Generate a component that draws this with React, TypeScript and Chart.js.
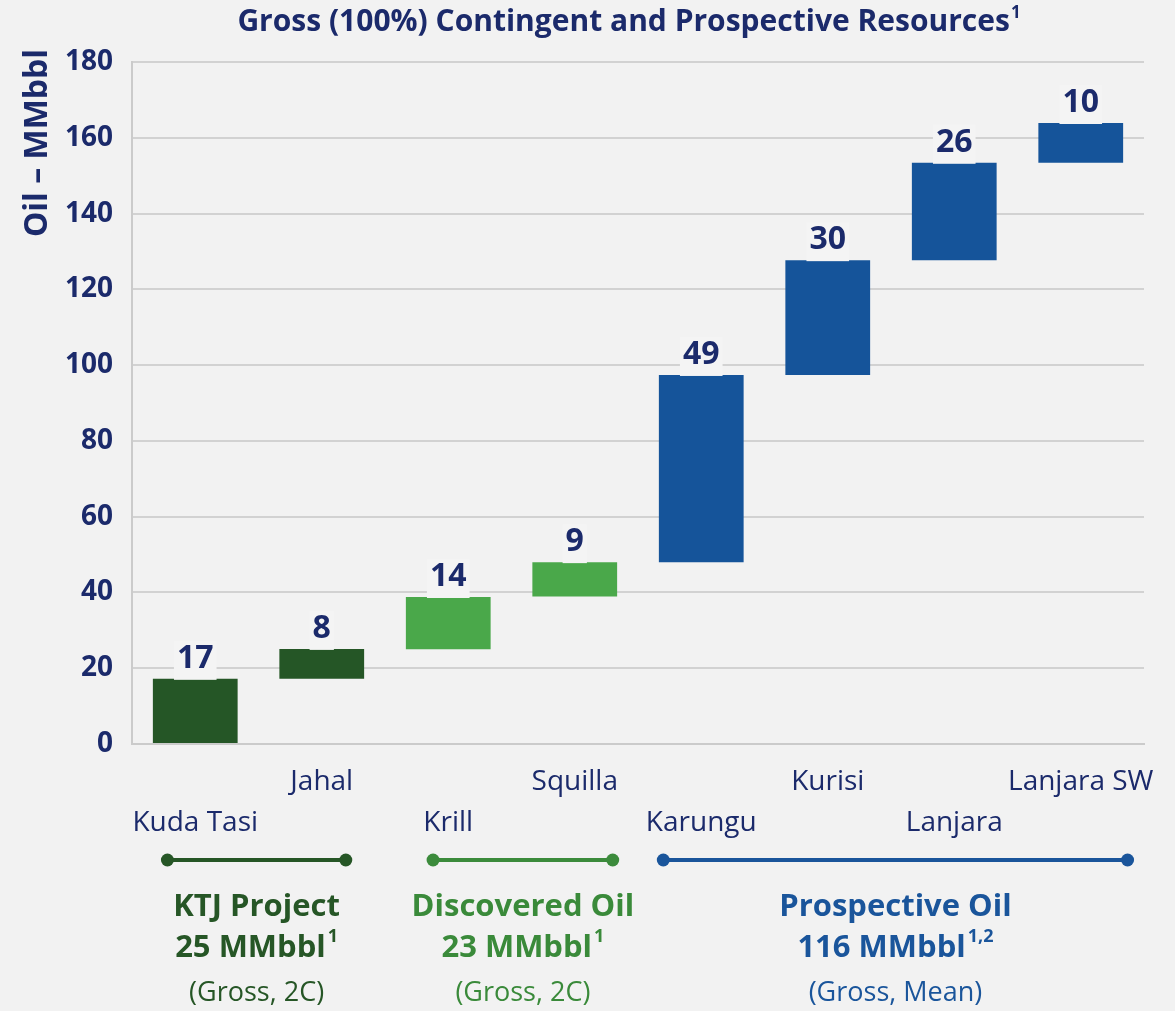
import React, { useEffect, useRef } from 'react';
import { Chart, registerables } from 'chart.js';

Chart.register(...registerables);

// ---------- data ----------
const categories = ['Kuda Tasi', 'Jahal', 'Krill', 'Squilla', 'Karungu', 'Kurisi', 'Lanjara', 'Lanjara SW'];
const barStart = [0, 17.2, 25.0, 38.9, 48.0, 97.4, 127.7, 153.4];
const barEnd = [17.2, 25.1, 38.8, 48.0, 97.4, 127.7, 153.4, 163.9];
const barLabels = ['17', '8', '14', '9', '49', '30', '26', '10'];
const barColors = ['#255626', '#255626', '#4AA84A', '#4AA84A', '#15549A', '#15549A', '#15549A', '#15549A'];
const yMin = 0;
const yMax = 180;
const yStep = 20;

const titleText = 'Gross (100%) Contingent and Prospective Resources';
const titleSup = '1';
const yTitle = 'Oil – MMbbl';

const groupTitles = ['KTJ Project', 'Discovered Oil', 'Prospective Oil'];
const groupAmounts = ['25 MMbbl', '23 MMbbl', '116 MMbbl'];
const groupAmountSups = ['1', '1', '1,2'];
const groupBases = ['(Gross, 2C)', '(Gross, 2C)', '(Gross, Mean)'];
const groupFrom = [-0.22, 1.88, 3.70];
const groupTo = [1.19, 3.30, 7.37];
const groupLineColors = ['#265626', '#3C8B3C', '#1A559B'];
const groupTextColors = ['#265626', '#3A8A3A', '#1A559B'];

const NAVY = '#1B2A6B';
const BG = '#F2F2F2';
const FONT = "'Open Sans', sans-serif";

const W = 1175;
const H = 1011;

const decorPlugin = {
  id: 'decor',
  beforeDraw(chart: any) {
    const ctx = chart.ctx;
    ctx.save();
    ctx.fillStyle = BG;
    ctx.fillRect(0, 0, chart.width, chart.height);
    ctx.restore();
  },
  afterDatasetsDraw(chart: any) {
    const ctx = chart.ctx;
    const meta = chart.getDatasetMeta(0);
    ctx.save();
    ctx.font = `bold 32px ${FONT}`;
    ctx.textAlign = 'center';
    ctx.textBaseline = 'alphabetic';
    meta.data.forEach((bar: any, i: number) => {
      const txt = barLabels[i];
      const w = ctx.measureText(txt).width;
      const top = Math.min(bar.y, bar.base);
      ctx.fillStyle = '#F4F4F4';
      ctx.fillRect(bar.x - w / 2 - 3, top - 38, w + 6, 39);
      ctx.fillStyle = NAVY;
      ctx.fillText(txt, bar.x, top - 11);
    });
    ctx.restore();
  },
  afterDraw(chart: any) {
    const ctx = chart.ctx;
    const xs = chart.scales.x;
    ctx.save();

    // Title with superscript
    ctx.textBaseline = 'alphabetic';
    ctx.textAlign = 'left';
    ctx.font = `bold 30px ${FONT}`;
    const tw = ctx.measureText(titleText).width;
    ctx.font = `bold 17px ${FONT}`;
    const sw = ctx.measureText(titleSup).width;
    const tx = 629 - (tw + sw + 1) / 2;
    ctx.fillStyle = NAVY;
    ctx.font = `bold 30px ${FONT}`;
    ctx.fillText(titleText, tx, 31);
    ctx.font = `bold 17px ${FONT}`;
    ctx.fillText(titleSup, tx + tw + 1, 18);

    // Y axis title
    ctx.save();
    ctx.translate(38, 143);
    ctx.rotate(-Math.PI / 2);
    ctx.textAlign = 'center';
    ctx.textBaseline = 'middle';
    ctx.font = `bold 32px ${FONT}`;
    ctx.fillStyle = NAVY;
    ctx.fillText(yTitle, 0, 0);
    ctx.restore();

    // Group annotations
    const lineY = 860;
    groupTitles.forEach((g, i) => {
      const x1 = xs.getPixelForValue(groupFrom[i]);
      const x2 = xs.getPixelForValue(groupTo[i]);
      const cx = (x1 + x2) / 2;
      ctx.strokeStyle = groupLineColors[i];
      ctx.fillStyle = groupLineColors[i];
      ctx.lineWidth = 4;
      ctx.beginPath();
      ctx.moveTo(x1, lineY);
      ctx.lineTo(x2, lineY);
      ctx.stroke();
      [x1, x2].forEach((px) => {
        ctx.beginPath();
        ctx.arc(px, lineY, 6.5, 0, Math.PI * 2);
        ctx.fill();
      });

      ctx.fillStyle = groupTextColors[i];
      ctx.textBaseline = 'alphabetic';
      ctx.textAlign = 'center';
      ctx.font = `bold 31px ${FONT}`;
      ctx.fillText(g, cx, 916);

      // amount + superscript
      ctx.textAlign = 'left';
      ctx.font = `bold 31px ${FONT}`;
      const aw = ctx.measureText(groupAmounts[i]).width;
      ctx.font = `bold 18px ${FONT}`;
      const supw = ctx.measureText(groupAmountSups[i]).width;
      const ax = cx - (aw + supw + 2) / 2;
      ctx.font = `bold 31px ${FONT}`;
      ctx.fillText(groupAmounts[i], ax, 957);
      ctx.font = `bold 18px ${FONT}`;
      ctx.fillText(groupAmountSups[i], ax + aw + 2, 942);

      ctx.textAlign = 'center';
      ctx.font = `27px ${FONT}`;
      ctx.fillText(groupBases[i], cx, 1001);
    });

    ctx.restore();
  },
};

export default function App() {
  const ref = useRef<HTMLCanvasElement | null>(null);

  useEffect(() => {
    if (!ref.current) return;
    const chart = new Chart(ref.current, {
      type: 'bar',
      data: {
        labels: categories.map((c, i) => (i % 2 === 0 ? ['', c] : [c, ''])),
        datasets: [
          {
            data: categories.map((_, i) => [barStart[i], barEnd[i]]),
            backgroundColor: barColors,
            borderWidth: 0,
            barPercentage: 0.67,
            categoryPercentage: 1,
          },
        ],
      },
      options: {
        responsive: false,
        animation: false,
        layout: { padding: { top: 62, right: 31, bottom: 0, left: 0 } },
        plugins: {
          legend: { display: false },
          tooltip: { enabled: false },
          title: { display: false },
        },
        scales: {
          x: {
            offset: true,
            grid: { display: false, drawTicks: false },
            border: { display: true, color: '#CBCBCB', width: 2 },
            ticks: {
              color: NAVY,
              font: { family: FONT, size: 28, lineHeight: 1.464 },
              padding: 18,
              autoSkip: false,
              maxRotation: 0,
              minRotation: 0,
            },
            afterFit(scale: any) {
              scale.height = 267;
              scale.paddingLeft = 0;
              scale.paddingRight = 0;
            },
          },
          y: {
            min: yMin,
            max: yMax,
            grid: { color: '#D2D2D2', lineWidth: 2, drawTicks: false },
            border: { display: true, color: '#CBCBCB', width: 2 },
            ticks: {
              stepSize: yStep,
              color: NAVY,
              font: { family: FONT, size: 28, weight: 'bold' },
              padding: 19,
            },
            afterFit(scale: any) {
              scale.width = 132;
              scale.paddingTop = 0;
              scale.paddingBottom = 0;
            },
          },
        },
      } as any,
      plugins: [decorPlugin],
    });
    return () => chart.destroy();
  }, []);

  return (
    <div style={{ position: 'fixed', left: 0, top: 0, width: W, height: H, background: BG }}>
      <canvas ref={ref} width={W} height={H} style={{ display: 'block', width: W, height: H }} />
    </div>
  );
}
